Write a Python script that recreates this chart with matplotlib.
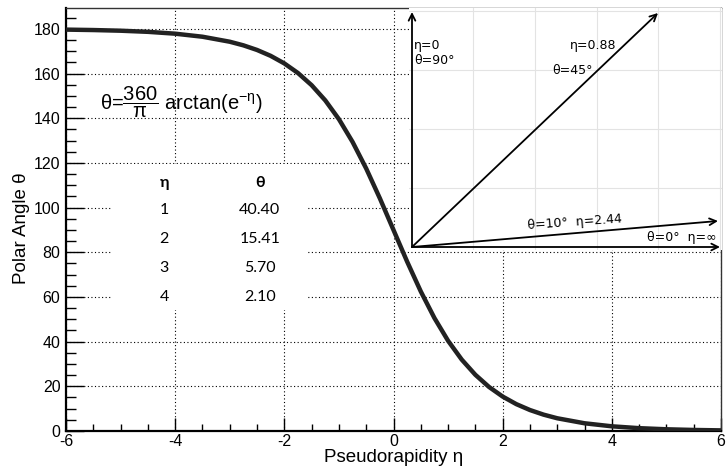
import numpy as np
import matplotlib
matplotlib.use('Agg')
import matplotlib.pyplot as plt
from matplotlib.patches import Rectangle

plt.rcParams['font.family'] = ['Liberation Sans', 'DejaVu Sans']
plt.rcParams['mathtext.fontset'] = 'custom'
plt.rcParams['mathtext.rm'] = 'Liberation Sans'
plt.rcParams['mathtext.it'] = 'Liberation Sans'
plt.rcParams['mathtext.sf'] = 'Liberation Sans'

## ==========Data
eta = [-6, -5.5, -5, -4.5, -4, -3.5, -3, -2.75, -2.5, -2.25, -2, -1.75, -1.5,
       -1.25, -1, -0.75, -0.5, -0.25, 0, 0.25, 0.5, 0.75, 1, 1.25, 1.5, 1.75,
       2, 2.25, 2.5, 2.75, 3, 3.5, 4, 4.5, 5, 5.5, 6]
theta = [179.72, 179.53, 179.23, 178.73, 177.90, 176.54, 174.30, 172.68, 170.61,
         167.97, 164.58, 160.28, 154.84, 148.03, 139.61, 129.43, 117.52, 104.18,
         90.00, 75.82, 62.48, 50.57, 40.39, 31.97, 25.16, 19.72, 15.42, 12.03,
         9.39, 7.32, 5.70, 3.46, 2.10, 1.27, 0.77, 0.47, 0.28]

tab_eta = ['1', '2', '3', '4']
tab_theta = ['40.40', '15.41', '5.70', '2.10']

# inset sketch: arrow tips and labels
arrow_tips = [(0, 235), (246, 234), (306, 26), (308, 0)]
inset_labels = [('η=0\nθ=90°', 2, 194, 0),
                ('η=0.88', 158, 202, 0),
                ('θ=45°', 140, 177, 0),
                ('θ=10°  η=2.44', 115, 25, 4),
                ('θ=0°  η=∞', 235, 10, 0)]

## ==========Main figure
fig = plt.figure(figsize=(7.27, 4.70), dpi=100)
ax = fig.add_axes([66/727, 39/470, 655/727, 423/470])

ax.plot(eta, theta, color='#222222', lw=3.2, solid_capstyle='butt', zorder=3)

ax.set_xlim(-6, 6)
ax.set_ylim(0, 189.4)
ax.set_xticks(np.arange(-6, 7, 2))
ax.set_xticks(np.arange(-6, 6.1, 0.5), minor=True)
ax.set_yticks(np.arange(0, 181, 20))
ax.set_yticks(np.arange(0, 186, 5), minor=True)
ax.set_xticklabels(['-6', '-4', '-2', '0', '2', '4', '6'])

ax.tick_params(axis='both', which='both', direction='in', top=False, right=False,
               labelsize=11.5, color='black')
ax.tick_params(axis='y', which='major', length=13, width=1.0, pad=4)
ax.tick_params(axis='y', which='minor', length=7, width=1.0)
ax.tick_params(axis='x', which='major', length=9.5, width=1.0, pad=2)
ax.tick_params(axis='x', which='minor', length=5, width=1.0)

for s in ['left', 'bottom']:
    ax.spines[s].set_linewidth(1.6)
for s in ['top', 'right']:
    ax.spines[s].set_linewidth(1.0)
    ax.spines[s].set_color('#333333')

ax.grid(True, which='major', color='black', linestyle=(0, (1, 2.2)), lw=0.8)

ax.set_xlabel('Pseudorapidity η', fontsize=13.5, labelpad=0)
ax.set_ylabel('Polar Angle θ', fontsize=13.5)
ax.yaxis.set_label_coords(-0.055, 0.48)

ax.text(-5.38, 147, r'$\theta$=$\dfrac{360}{\pi}$ arctan(e$^{-\eta}$)',
        fontsize=14.5, va='center', ha='left')

## ==========Table
ax.add_patch(Rectangle((-5.16, 54.2), 3.6, 65.2, facecolor='white',
                       edgecolor='none', zorder=2))
ax.text(-4.2, 111, 'η', fontsize=11.5, fontweight='bold', family='Lato',
        ha='center', va='center', zorder=4)
ax.text(-2.45, 111, 'θ', fontsize=11.5, fontweight='bold', family='Lato',
        ha='center', va='center', zorder=4)
for i, (a, b) in enumerate(zip(tab_eta, tab_theta)):
    y = 99 - 13 * i
    ax.text(-4.2, y, a, fontsize=11.5, family='Lato', ha='center', va='center', zorder=4)
    ax.text(-2.45, y, b, fontsize=11.5, family='Lato', ha='center', va='center', zorder=4)

## ==========Inset sketch
ins = fig.add_axes([409/727, 220/470, 313/727, 242/470])
ins.set_xlim(-3, 310)
ins.set_ylim(-3, 239)
ins.set_facecolor('white')
for s in ins.spines.values():
    s.set_visible(False)
ins.set_xticks([61, 123, 185, 246, 308])
ins.set_yticks([59, 118, 177, 236])
ins.tick_params(length=0, labelbottom=False, labelleft=False)
ins.grid(True, color='#e3e3e3', lw=0.8)
ins.set_axisbelow(True)

for tx, ty in arrow_tips:
    ins.annotate('', xy=(tx, ty), xytext=(0, 0),
                 arrowprops=dict(arrowstyle='->', color='black', lw=1.3,
                                 mutation_scale=12, shrinkA=0, shrinkB=0))
for txt, x, y, rot in inset_labels:
    ins.text(x, y, txt, fontsize=9, family=['DejaVu Sans'], ha='left',
             va='center', rotation=rot, linespacing=1.3)

fig.savefig('out.png', dpi=100)
